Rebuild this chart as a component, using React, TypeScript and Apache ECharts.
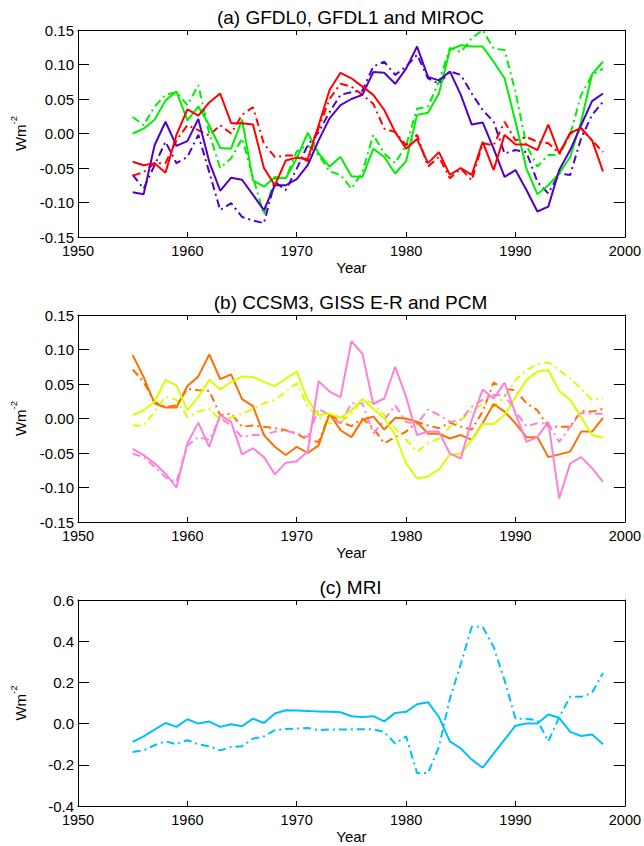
import React, { useEffect, useRef } from "react";
import * as echarts from "echarts";

const years = [
  1955, 1956, 1957, 1958, 1959, 1960, 1961, 1962, 1963, 1964,
  1965, 1966, 1967, 1968, 1969, 1970, 1971, 1972, 1973, 1974,
  1975, 1976, 1977, 1978, 1979, 1980, 1981, 1982, 1983, 1984,
  1985, 1986, 1987, 1988, 1989, 1990, 1991, 1992, 1993, 1994,
  1995, 1996, 1997, 1998,
];

// Panel (a)
const aGreenSolid = [
  0.0, 0.007, 0.02, 0.048, 0.061, 0.019, 0.039, 0.012, -0.021, -0.022,
  0.02, -0.068, -0.077, -0.063, -0.065, -0.036, 0.001, -0.029, -0.048, -0.034,
  -0.062, -0.063, -0.022, -0.034, -0.058, -0.04, 0.027, 0.03, 0.058, 0.121,
  0.128, 0.126, 0.126, 0.104, 0.08, 0.017, -0.051, -0.088, -0.075, -0.058,
  -0.034, 0.017, 0.086, 0.104,
];
const aGreenDash = [
  0.024, 0.012, 0.039, 0.056, 0.06, 0.041, 0.07, 0.0, -0.05, -0.036,
  -0.007, -0.063, -0.118, -0.065, -0.065, -0.026, -0.017, -0.031, -0.055, -0.06,
  -0.08, -0.056, -0.002, -0.029, -0.043, -0.017, 0.036, 0.039, 0.075, 0.124,
  0.118, 0.138, 0.15, 0.123, 0.121, 0.06, -0.017, -0.048, -0.031, -0.031,
  -0.002, 0.056, 0.085, 0.094,
];
const aPurpleSolid = [
  -0.085, -0.088, -0.017, 0.017, -0.018, -0.011, 0.021, -0.041, -0.083, -0.064,
  -0.067, -0.089, -0.111, -0.075, -0.075, -0.066, -0.046, -0.01, 0.022, 0.041,
  0.05, 0.056, 0.089, 0.088, 0.072, 0.094, 0.126, 0.082, 0.077, 0.09,
  0.056, 0.013, 0.016, -0.022, -0.063, -0.053, -0.082, -0.113, -0.106, -0.053,
  -0.024, 0.012, 0.047, 0.058,
];
const aPurpleDash = [
  -0.06, -0.08, -0.046, -0.012, -0.043, -0.034, -0.002, -0.056, -0.111, -0.101,
  -0.121, -0.126, -0.13, -0.07, -0.082, -0.051, -0.017, 0.002, 0.031, 0.056,
  0.06, 0.062, 0.097, 0.104, 0.085, 0.097, 0.114, 0.08, 0.072, 0.09,
  0.085, 0.058, 0.034, 0.017, -0.029, -0.024, -0.027, -0.07, -0.087, -0.058,
  -0.06, -0.007, 0.027, 0.046,
];
const aRedSolid = [
  -0.041, -0.046, -0.043, -0.057, -0.002, 0.035, 0.026, 0.045, 0.058, 0.015,
  0.015, 0.013, -0.05, -0.075, -0.039, -0.035, -0.037, 0.012, 0.063, 0.088,
  0.08, 0.068, 0.056, 0.034, 0.002, -0.022, -0.008, -0.043, -0.027, -0.06,
  -0.05, -0.06, -0.012, -0.053, -0.002, -0.016, -0.016, -0.024, 0.013, -0.029,
  0.001, 0.008, -0.01, -0.055,
];
const aRedDash = [
  -0.061, -0.056, -0.043, -0.043, -0.01, 0.012, 0.005, -0.003, 0.012, 0.0,
  0.027, 0.038, -0.015, -0.034, -0.032, -0.032, -0.04, 0.008, 0.05, 0.072,
  0.068, 0.056, 0.043, 0.007, 0.002, -0.017, -0.002, -0.048, -0.034, -0.065,
  -0.051, -0.068, -0.014, -0.017, 0.017, -0.01, -0.005, -0.012, -0.014, -0.029,
  0.0, 0.007, -0.01, -0.027,
];

// Panel (b)
const bOrangeSolid = [
  0.092, 0.06, 0.022, 0.016, 0.016, 0.047, 0.061, 0.093, 0.057, 0.064,
  0.028, 0.018, -0.024, -0.041, -0.053, -0.041, -0.05, -0.039, 0.007, -0.017,
  -0.027, -0.002, 0.003, -0.016, 0.001, 0.0, -0.005, -0.022, -0.022, -0.029,
  -0.024, -0.031, -0.007, 0.021, 0.01, -0.007, -0.027, -0.027, -0.056, -0.052,
  -0.048, -0.019, -0.019, 0.001,
];
const bOrangeDash = [
  0.071, 0.053, 0.024, 0.017, 0.019, 0.043, 0.041, 0.04, 0.005, 0.007,
  -0.012, -0.01, -0.012, -0.014, -0.017, -0.022, -0.031, -0.034, 0.007, -0.005,
  -0.011, 0.0, -0.014, -0.036, -0.027, -0.019, -0.005, -0.01, -0.014, -0.006,
  -0.012, -0.016, 0.01, 0.052, 0.043, 0.041, 0.022, 0.012, -0.012, -0.012,
  -0.012, 0.011, 0.01, 0.014,
];
const bYellowSolid = [
  0.005, 0.012, 0.024, 0.056, 0.048, 0.012, 0.031, 0.056, 0.042, 0.053,
  0.061, 0.06, 0.053, 0.047, 0.058, 0.068, 0.027, 0.005, 0.007, 0.001,
  0.012, 0.028, 0.014, 0.0, -0.024, -0.065, -0.087, -0.084, -0.074, -0.052,
  -0.051, -0.031, -0.008, -0.008, 0.005, 0.031, 0.056, 0.068, 0.07, 0.04,
  0.027, 0.002, -0.024, -0.028,
];
const bYellowDash = [
  -0.01, -0.01, 0.01, 0.032, 0.027, 0.002, 0.01, 0.014, -0.002, 0.001,
  0.007, 0.014, 0.022, 0.027, 0.039, 0.051, 0.017, 0.002, -0.007, -0.005,
  0.007, 0.028, 0.022, 0.005, -0.014, -0.031, -0.048, -0.036, -0.029, -0.012,
  -0.002, 0.01, 0.022, 0.017, 0.031, 0.056, 0.07, 0.079, 0.081, 0.07,
  0.058, 0.043, 0.027, 0.029,
];
const bPinkSolid = [
  -0.044, -0.053, -0.065, -0.08, -0.1, -0.036, -0.006, -0.041, 0.005, -0.005,
  -0.052, -0.043, -0.056, -0.081, -0.064, -0.062, -0.048, 0.054, 0.039, 0.031,
  0.112, 0.094, 0.021, 0.029, 0.075, 0.031, -0.024, -0.019, -0.019, -0.051,
  -0.058, -0.002, 0.042, 0.029, 0.052, 0.007, -0.034, -0.027, -0.005, -0.116,
  -0.065, -0.056, -0.072, -0.092,
];
const bPinkDash = [
  -0.051, -0.056, -0.07, -0.085, -0.092, -0.039, -0.027, -0.031, 0.001, -0.01,
  -0.027, -0.024, -0.024, -0.019, -0.018, -0.021, -0.027, 0.014, 0.005, -0.007,
  0.022, 0.022, -0.022, -0.002, 0.019, -0.005, -0.008, 0.013, 0.005, -0.005,
  -0.002, 0.017, 0.027, 0.034, 0.034, 0.01, -0.011, -0.007, -0.007, -0.034,
  -0.012, 0.008, 0.007, 0.007,
];

// Panel (c)
const cSolid = [
  -0.089, -0.062, -0.029, 0.003, -0.016, 0.021, 0.0, 0.01, -0.016, -0.003,
  -0.013, 0.024, 0.003, 0.049, 0.065, 0.063, 0.061, 0.059, 0.057, 0.055,
  0.036, 0.032, 0.036, 0.011, 0.052, 0.057, 0.094, 0.104, 0.032, -0.086,
  -0.121, -0.175, -0.214, -0.146, -0.078, -0.01, 0.0, 0.0, 0.044, 0.028,
  -0.04, -0.06, -0.053, -0.1,
];
const cDash = [
  -0.138, -0.13, -0.105, -0.086, -0.1, -0.081, -0.1, -0.11, -0.13, -0.113,
  -0.11, -0.073, -0.062, -0.032, -0.026, -0.024, -0.021, -0.032, -0.028, -0.029,
  -0.028, -0.028, -0.028, -0.04, -0.097, -0.062, -0.24, -0.24, -0.113, 0.121,
  0.29, 0.47, 0.47, 0.372, 0.21, 0.024, 0.024, 0.016, -0.086, 0.032,
  0.13, 0.13, 0.149, 0.246,
];

const titles = [
  "(a) GFDL0, GFDL1 and MIROC",
  "(b) CCSM3, GISS E-R and PCM",
  "(c) MRI",
];
const xTicks = { min: 1950, max: 2000, interval: 10 };
const yRanges = [
  { min: -0.15, max: 0.15, interval: 0.05, dec: 2 },
  { min: -0.15, max: 0.15, interval: 0.05, dec: 2 },
  { min: -0.4, max: 0.6, interval: 0.2, dec: 1 },
];

const FONT = "Liberation Sans, Arial, Helvetica, sans-serif";
const DASHDOT = [8, 4, 2, 4];

const GREEN = "#00ee00";
const PURPLE = "#5000c8";
const RED = "#ff0000";
const ORANGE = "#ff6e00";
const YELLOW = "#d8ff00";
const PINK = "#ff80d8";
const CYAN = "#00bfff";

const panels = [
  [
    { d: aGreenDash, c: GREEN, dash: true },
    { d: aPurpleDash, c: PURPLE, dash: true },
    { d: aRedDash, c: RED, dash: true },
    { d: aGreenSolid, c: GREEN, dash: false },
    { d: aPurpleSolid, c: PURPLE, dash: false },
    { d: aRedSolid, c: RED, dash: false },
  ],
  [
    { d: bOrangeDash, c: ORANGE, dash: true },
    { d: bYellowDash, c: YELLOW, dash: true },
    { d: bPinkDash, c: PINK, dash: true },
    { d: bOrangeSolid, c: ORANGE, dash: false },
    { d: bYellowSolid, c: YELLOW, dash: false },
    { d: bPinkSolid, c: PINK, dash: false },
  ],
  [
    { d: cDash, c: CYAN, dash: true },
    { d: cSolid, c: CYAN, dash: false },
  ],
];

const GRID_LEFT = 74;
const GRID_W = 553;
const gridTops = [30, 315, 600];
const gridHeights = [207, 207, 206];

export default function App() {
  const ref = useRef<HTMLDivElement>(null);

  useEffect(() => {
    if (!ref.current) return;
    const chart = echarts.init(ref.current, undefined, { renderer: "svg" });

    const grid: any[] = [];
    const xAxis: any[] = [];
    const yAxis: any[] = [];
    const series: any[] = [];
    const graphic: any[] = [];

    const lineCommon = {
      show: true,
      onZero: false,
      lineStyle: { color: "#000", width: 1 },
    };

    for (let i = 0; i < 3; i++) {
      grid.push({
        left: GRID_LEFT,
        top: gridTops[i],
        width: GRID_W,
        height: gridHeights[i],
        containLabel: false,
      });
      const xBase = {
        type: "value",
        gridIndex: i,
        min: xTicks.min,
        max: xTicks.max,
        interval: xTicks.interval,
        axisLine: lineCommon,
        splitLine: { show: false },
        axisTick: { show: true, inside: true, length: 5, lineStyle: { color: "#000", width: 1 } },
      };
      xAxis.push({
        ...xBase,
        position: "bottom",
        axisLabel: {
          color: "#000",
          fontSize: 14.5,
          fontFamily: FONT,
          margin: 6,
          formatter: (v: number) => String(Math.round(v)),
        },
        name: "Year",
        nameLocation: "middle",
        nameGap: 23,
        nameTextStyle: { color: "#000", fontSize: 15, fontFamily: FONT },
      });
      xAxis.push({
        ...xBase,
        position: "top",
        axisLabel: { show: false },
      });
      const r = yRanges[i];
      const yBase = {
        type: "value",
        gridIndex: i,
        min: r.min,
        max: r.max,
        interval: r.interval,
        axisLine: lineCommon,
        splitLine: { show: false },
        axisTick: { show: true, inside: true, length: 11, lineStyle: { color: "#000", width: 1 } },
      };
      yAxis.push({
        ...yBase,
        position: "left",
        axisLabel: {
          color: "#000",
          fontSize: 15,
          fontFamily: FONT,
          margin: 4,
          formatter: (v: number) => {
            const s = v.toFixed(r.dec);
            return Number(s) === 0 ? (0).toFixed(r.dec) : s;
          },
        },
        name: "{a|Wm}{b|-2}",
        nameLocation: "middle",
        nameRotate: 90,
        nameGap: 50,
        nameTextStyle: {
          color: "#000",
          fontFamily: FONT,
          rich: {
            a: { fontSize: 15, fontFamily: FONT, color: "#000", lineHeight: 20, verticalAlign: "bottom" },
            b: { fontSize: 9.5, fontFamily: FONT, color: "#000", verticalAlign: "top" },
          },
        },
      });
      yAxis.push({
        ...yBase,
        position: "right",
        axisLabel: { show: false },
      });

      panels[i].forEach((p) => {
        series.push({
          type: "line",
          xAxisIndex: 2 * i,
          yAxisIndex: 2 * i,
          data: years.map((y, k) => [y, p.d[k]]),
          symbol: "none",
          showSymbol: false,
          silent: true,
          lineStyle: {
            color: p.c,
            width: 2,
            type: p.dash ? DASHDOT : "solid",
          },
        });
      });

      graphic.push({
        type: "text",
        x: GRID_LEFT + GRID_W / 2,
        y: gridTops[i] - 13,
        style: {
          text: titles[i],
          align: "center",
          verticalAlign: "middle",
          fontSize: 19,
          fontFamily: FONT,
          fill: "#000",
        },
      });
    }

    chart.setOption({
      animation: false,
      backgroundColor: "#fff",
      grid,
      xAxis,
      yAxis,
      series,
      graphic,
    });

    return () => chart.dispose();
  }, []);

  return (
    <div
      ref={ref}
      style={{ position: "fixed", left: 0, top: 0, width: 644, height: 846, background: "#fff" }}
    />
  );
}
